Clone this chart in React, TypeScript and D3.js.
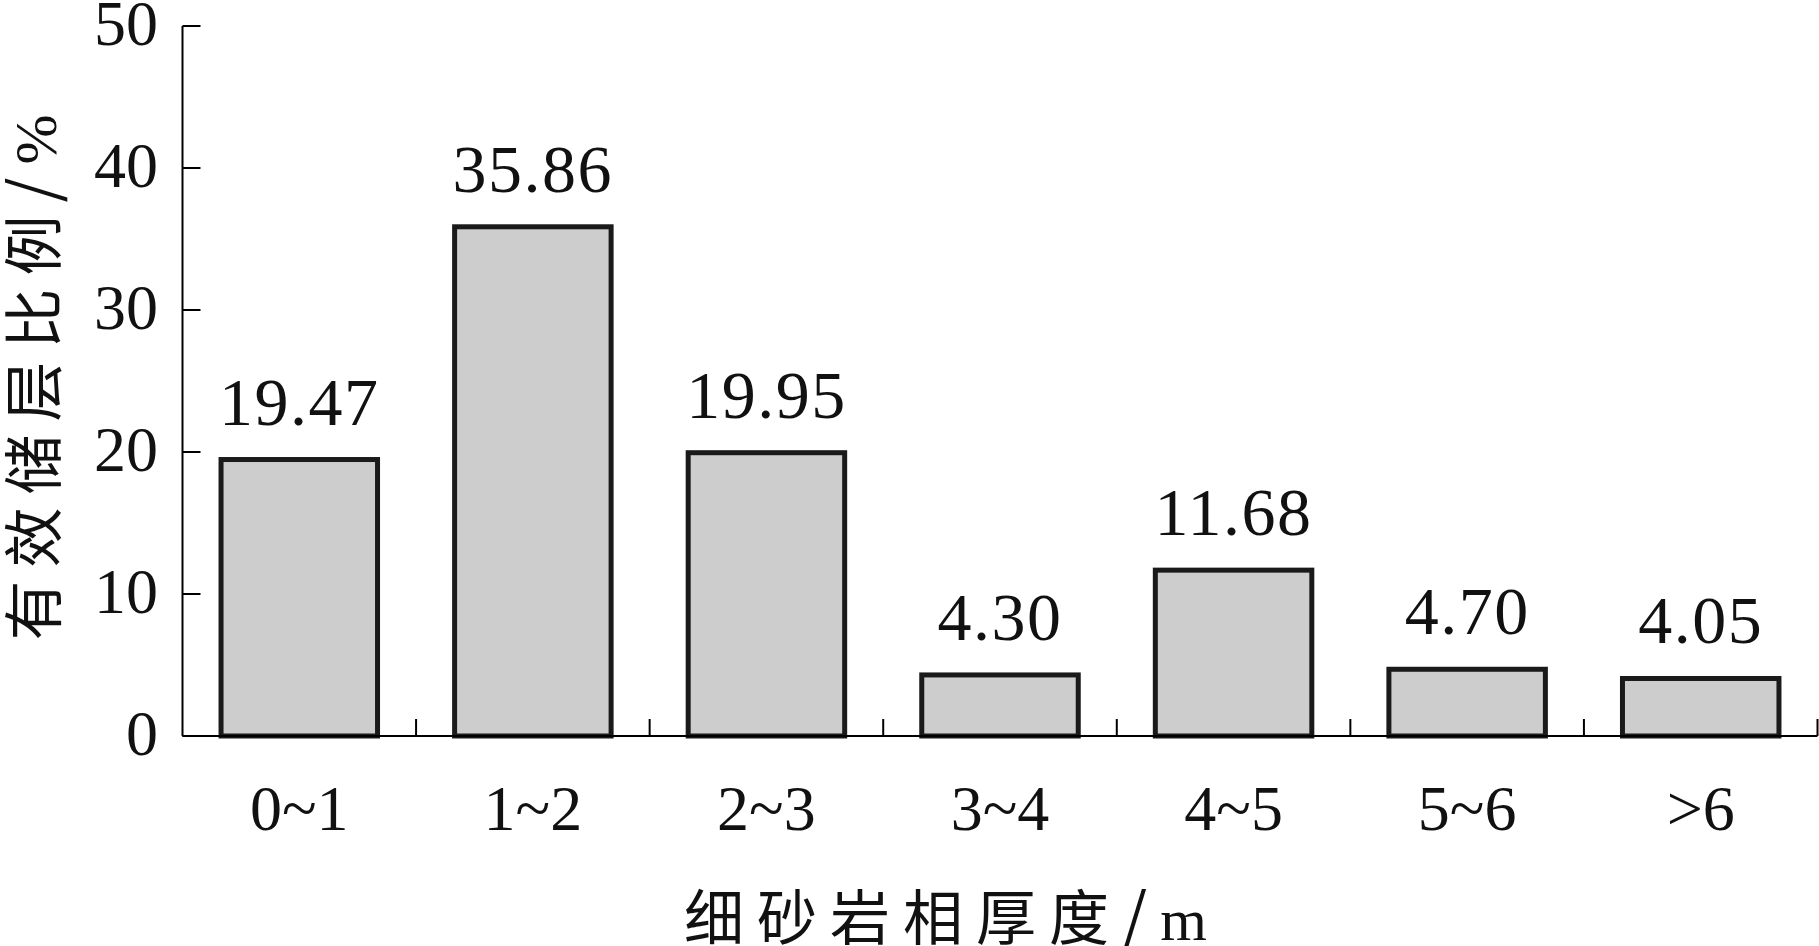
import React from "react";
import * as d3 from "d3";

const categories = ["0~1", "1~2", "2~3", "3~4", "4~5", "5~6", ">6"];
const values = [19.47, 35.86, 19.95, 4.3, 11.68, 4.7, 4.05];
const valueLabels = ["19.47", "35.86", "19.95", "4.30", "11.68", "4.70", "4.05"];
const yTicks = [0, 10, 20, 30, 40, 50];
const xTitleMain = "细砂岩相厚度";
const xTitleUnit = "m";
const yTitleMain = "有效储层比例";
const yTitleUnit = "%";

const W = 1819;
const H = 946;
const left = 182.5;
const right = 1817.5;
const top = 26;
const bottom = 736;
const FONT = "'Liberation Serif', 'Times New Roman', 'Noto Sans CJK SC', serif";
const CJK = "'Noto Sans CJK SC', sans-serif";

export default function App() {
  const x = d3
    .scaleBand<string>()
    .domain(categories)
    .range([left, right])
    .paddingInner(0.33)
    .paddingOuter(0.165);
  const y = d3.scaleLinear().domain([0, 50]).range([bottom, top]);
  const step = x.step();
  const xStart = x(categories[0])! - x.paddingOuter() * step;

  return (
    <svg
      width={W}
      height={H}
      style={{ position: "absolute", left: 0, top: 0, background: "#fff" }}
      fontFamily={FONT}
    >
      {/* bars */}
      {values.map((v, i) => (
        <rect
          key={"b" + i}
          x={x(categories[i])}
          y={y(v)}
          width={x.bandwidth()}
          height={y(0) - y(v)}
          fill="#cdcdcd"
          stroke="#1a1a1a"
          strokeWidth={5}
        />
      ))}
      {/* value labels */}
      {values.map((v, i) => (
        <text
          key={"v" + i}
          x={x(categories[i])! + x.bandwidth() / 2}
          y={y(v) - 35}
          textAnchor="middle"
          fontSize={68}
          letterSpacing={1.5}
          fill="#111"
        >
          {valueLabels[i]}
        </text>
      ))}
      {/* axes */}
      <line x1={left} x2={left} y1={top} y2={bottom} stroke="#000" strokeWidth={2} />
      <line x1={left} x2={right} y1={bottom} y2={bottom} stroke="#000" strokeWidth={2} />
      {yTicks.map((t) => (
        <g key={"yt" + t}>
          <line x1={left} x2={left + 18} y1={y(t)} y2={y(t)} stroke="#000" strokeWidth={2} />
          <text x={158} y={y(t) + 18.5} textAnchor="end" fontSize={64} fill="#111">
            {t}
          </text>
        </g>
      ))}
      {categories.map((c, i) => (
        <line
          key={"xt" + i}
          x1={xStart + (i + 1) * step}
          x2={xStart + (i + 1) * step}
          y1={bottom}
          y2={bottom - 17}
          stroke="#000"
          strokeWidth={2}
        />
      ))}
      {categories.map((c) => (
        <text
          key={"xl" + c}
          x={x(c)! + x.bandwidth() / 2}
          y={830}
          textAnchor="middle"
          fontSize={64}
          fill="#111"
        >
          {c}
        </text>
      ))}
      {/* titles */}
      <text x={952} y={940} textAnchor="middle" fontSize={60} letterSpacing={13} fill="#111">
        <tspan fontFamily={CJK}>{xTitleMain}</tspan>
        <tspan fontFamily={CJK} fontSize={64}>/</tspan>
        <tspan>{xTitleUnit}</tspan>
      </text>
      <text
        transform={`translate(56, 371) rotate(-90)`}
        textAnchor="middle"
        fontSize={60}
        letterSpacing={13}
        fill="#111"
      >
        <tspan fontFamily={CJK}>{yTitleMain}</tspan>
        <tspan fontFamily={CJK} fontSize={64}>/</tspan>
        <tspan>{yTitleUnit}</tspan>
      </text>
    </svg>
  );
}
